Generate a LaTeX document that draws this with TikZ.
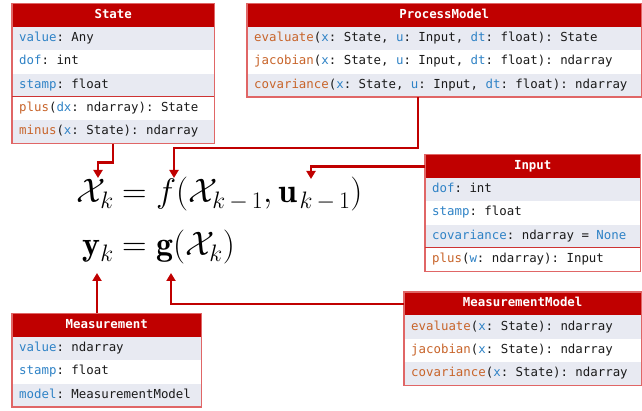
\RequirePackage{fix-cm}
\documentclass[tikz,border=0pt]{standalone}
\usepackage{fontspec}
\usepackage{amsmath}
\usetikzlibrary{arrows.meta}
\newfontfamily\codefont{DejaVu Sans Mono}
\newcommand\codesize{\fontsize{12.4}{14}\selectfont}
\newcommand\sk{\hbox to 0.602em{}}
\newcommand\kmo{k\mskip3mu-\mskip3mu 1}
\definecolor{hdr}{HTML}{C00000}
\definecolor{rowg}{HTML}{E8EAF2}
\definecolor{bord}{HTML}{E06666}
\definecolor{mcol}{HTML}{C8642A}
\definecolor{pcol}{HTML}{2E82C6}
\definecolor{txt}{HTML}{1A1A1A}
\newcommand\mth[1]{\textcolor{mcol}{#1}}
\newcommand\prm[1]{\textcolor{pcol}{#1}}
\tikzset{
  hdrbox/.style={anchor=north west, fill=hdr, text=white,
    font=\codefont\bfseries\codesize,
    minimum height=23.3pt, inner sep=0pt, text height=9pt, text depth=3pt},
  rowbox/.style={anchor=north west, text=txt,
    font=\codefont\codesize,
    minimum height=23.3pt, inner xsep=7pt, inner ysep=0pt,
    text height=9pt, text depth=3pt, align=left},
  grayrow/.style={rowbox, fill=rowg},
  whiterow/.style={rowbox, fill=white},
  border/.style={draw=bord, line width=1.3pt},
  sepline/.style={draw=hdr!80!white, line width=1pt},
  conn/.style={draw=hdr, line width=2.4pt, -{Triangle[width=9pt,length=8pt]}},
  eq/.style={inner sep=0pt, font=\fontsize{34}{38}\selectfont}
}
\begin{document}
\begin{tikzpicture}[x=1pt,y=-1pt]
\useasboundingbox (0,0) rectangle (642,411);

% ---------- State ----------
\node[hdrbox, minimum width=202pt] (st-h) at (12,3.5) {State};
\node[grayrow, text width=188pt]  (st-r1) at (12,26.8) {\prm{value}:\sk Any};
\node[whiterow, text width=188pt] (st-r2) at (12,50.1) {\prm{dof}:\sk int};
\node[grayrow, text width=188pt]  (st-r3) at (12,73.4) {\prm{stamp}:\sk float};
\node[whiterow, text width=188pt] (st-r4) at (12,96.7) {\mth{plus}(\prm{dx}:\sk ndarray):\sk State};
\node[grayrow, text width=188pt]  (st-r5) at (12,120.0) {\mth{minus}(\prm{x}:\sk State):\sk ndarray};
\draw[border] (st-h.north west) rectangle (st-r5.south east);
\draw[sepline] (st-r4.north west) -- (st-r4.north east);

% ---------- ProcessModel ----------
\node[hdrbox, minimum width=394pt] (pm-h) at (247,3.5) {ProcessModel};
\node[grayrow, text width=380pt]  (pm-r1) at (247,26.8) {\mth{evaluate}(\prm{x}:\sk State,\sk\prm{u}:\sk Input,\sk\prm{dt}:\sk float):\sk State};
\node[whiterow, text width=380pt] (pm-r2) at (247,50.1) {\mth{jacobian}(\prm{x}:\sk State,\sk\prm{u}:\sk Input,\sk\prm{dt}:\sk float):\sk ndarray};
\node[grayrow, text width=380pt]  (pm-r3) at (247,73.4) {\mth{covariance}(\prm{x}:\sk State,\sk\prm{u}:\sk Input,\sk\prm{dt}:\sk float):\sk ndarray};
\draw[border] (pm-h.north west) rectangle (pm-r3.south east);

% ---------- Input ----------
\node[hdrbox, minimum width=215pt] (in-h) at (425,154.5) {Input};
\node[grayrow, text width=201pt]  (in-r1) at (425,177.8) {\prm{dof}:\sk int};
\node[whiterow, text width=201pt] (in-r2) at (425,201.1) {\prm{stamp}:\sk float};
\node[grayrow, text width=201pt]  (in-r3) at (425,224.4) {\prm{covariance}:\sk ndarray\sk=\sk\prm{None}};
\node[whiterow, text width=201pt] (in-r4) at (425,247.7) {\mth{plus}(\prm{w}:\sk ndarray):\sk Input};
\draw[border] (in-h.north west) rectangle (in-r4.south east);
\draw[sepline] (in-r4.north west) -- (in-r4.north east);

% ---------- MeasurementModel ----------
\node[hdrbox, minimum width=237pt] (mm-h) at (404,292) {MeasurementModel};
\node[grayrow, text width=223pt]  (mm-r1) at (404,315.3) {\mth{evaluate}(\prm{x}:\sk State):\sk ndarray};
\node[whiterow, text width=223pt] (mm-r2) at (404,338.6) {\mth{jacobian}(\prm{x}:\sk State):\sk ndarray};
\node[grayrow, text width=223pt]  (mm-r3) at (404,361.9) {\mth{covariance}(\prm{x}:\sk State):\sk ndarray};
\draw[border] (mm-h.north west) rectangle (mm-r3.south east);

% ---------- Measurement ----------
\node[hdrbox, minimum width=189pt] (ms-h) at (12,313.5) {Measurement};
\node[grayrow, text width=175pt]  (ms-r1) at (12,336.8) {\prm{value}:\sk ndarray};
\node[whiterow, text width=175pt] (ms-r2) at (12,360.1) {\prm{stamp}:\sk float};
\node[grayrow, text width=175pt]  (ms-r3) at (12,383.4) {\prm{model}:\sk MeasurementModel};
\draw[border] (ms-h.north west) rectangle (ms-r3.south east);

% ---------- Equations ----------
\node[eq, anchor=base east] (eq1l) at (114,203) {$\mathcal{X}_k$};
\node[eq, anchor=base west] (eq1r) at (122,203) {$= f(\mathcal{X}_{\kmo}, \mathbf{u}_{\mskip2mu\kmo})$};
\node[eq, anchor=base east] (eq2l) at (114,256) {$\mathbf{y}_k$};
\node[eq, anchor=base west] (eq2r) at (122,256) {$= \mathbf{g}(\mathcal{X}_k)$};

% ---------- Connectors ----------
\coordinate (tipX) at (98,178);
\coordinate (tipF) at (174,178);
\coordinate (tipU) at (311,179);
\coordinate (tipY) at (97,273);
\coordinate (tipG) at (171,273);
\draw[conn] (st-r5.south) -- ++(0,19) -| (tipX);
\draw[conn] ([xshift=-26pt]pm-r3.south) -- ++(0,51) -| (tipF);
\draw[conn] (in-h.west) -| (tipU);
\draw[conn] (ms-h.north -| tipY) -- (tipY);
\draw[conn] (mm-h.west) -| (tipG);
\end{tikzpicture}
\end{document}
